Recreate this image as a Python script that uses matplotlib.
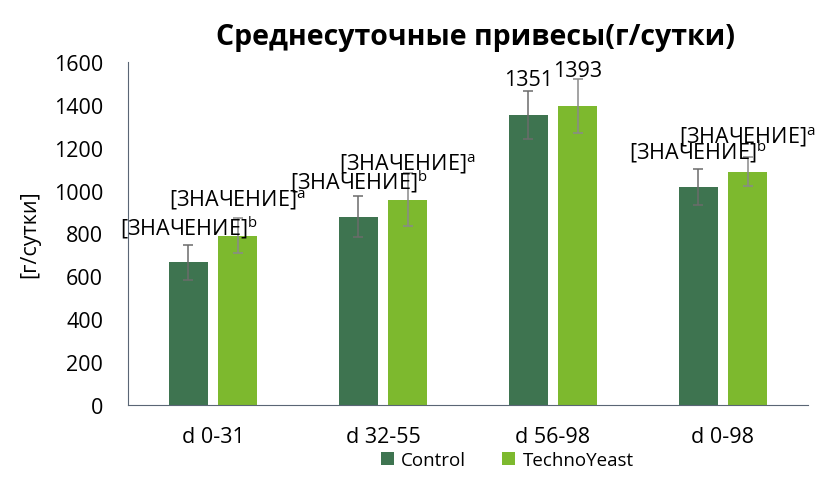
import numpy as np
import matplotlib.pyplot as plt

plt.rcParams['font.family'] = ['Open Sans', 'DejaVu Sans']

categories = ["d 0-31", "d 32-55", "d 56-98", "d 0-98"]
control = [665, 878, 1351, 1018]
control_err = [83, 95, 112, 84]
techno = [790, 958, 1393, 1088]
techno_err = [80, 125, 126, 67]
control_lbl = ["[ЗНАЧЕНИЕ]", "[ЗНАЧЕНИЕ]", "1351", "[ЗНАЧЕНИЕ]"]
control_sup = ["b", "b", "", "b"]
techno_lbl = ["[ЗНАЧЕНИЕ]", "[ЗНАЧЕНИЕ]", "1393", "[ЗНАЧЕНИЕ]"]
techno_sup = ["a", "a", "", "a"]

c_ctrl = "#3E7450"
c_ty = "#7DB92E"
fs = 15.5

fig = plt.figure(figsize=(8.21, 4.81), dpi=100)
ax = fig.add_axes([0.156, 0.156, 0.828, 0.713])

x = np.arange(len(categories))
w = 0.23
off = 0.145
ax.bar(x - off, control, w, color=c_ctrl, label="Control")
ax.bar(x + off, techno, w, color=c_ty, label="TechnoYeast")
ax.errorbar(x - off, control, yerr=control_err, fmt="none", ecolor="#6b6b6b",
            elinewidth=1.1, capsize=3.3, capthick=1.1)
ax.errorbar(x + off, techno, yerr=techno_err, fmt="none", ecolor="#8a8a8a",
            elinewidth=1.1, capsize=3.3, capthick=1.1)

def lbl(t, s):
    return t + ("$^{\\mathregular{" + s + "}}$" if s else "")

for i in range(len(categories)):
    ax.annotate(lbl(control_lbl[i], control_sup[i]), (x[i] - off, control[i]),
                xytext=(0, 26), textcoords="offset points", ha="center",
                va="center", fontsize=fs)
    ax.annotate(lbl(techno_lbl[i], techno_sup[i]), (x[i] + off, techno[i]),
                xytext=(0, 26), textcoords="offset points", ha="center",
                va="center", fontsize=fs)

ax.set_xlim(-0.5, 3.5)
ax.set_ylim(0, 1600)
ax.set_yticks(np.arange(0, 1601, 200))
ax.set_xticks(x)
ax.set_xticklabels(categories)
ax.tick_params(axis="both", length=0, labelsize=fs)
ax.tick_params(axis="y", pad=18)
ax.tick_params(axis="x", pad=15)
for s in ["top", "right"]:
    ax.spines[s].set_visible(False)
ax.spines["left"].set_color("#5a6675")
ax.spines["bottom"].set_color("#5a6675")
ax.set_ylabel("[г/сутки]", fontsize=fs, labelpad=10)
fig.text(475 / 821, 0.922, "Среднесуточные привесы(г/сутки)", ha="center",
         va="center", fontsize=20.5, fontweight="bold")
fig.legend(loc="center", bbox_to_anchor=(507 / 821, 1 - 461 / 481), ncol=2,
           frameon=False, fontsize=13.5, handlelength=0.7, handleheight=0.7,
           columnspacing=1.9, handletextpad=0.4)

fig.savefig("out.png", dpi=100)
